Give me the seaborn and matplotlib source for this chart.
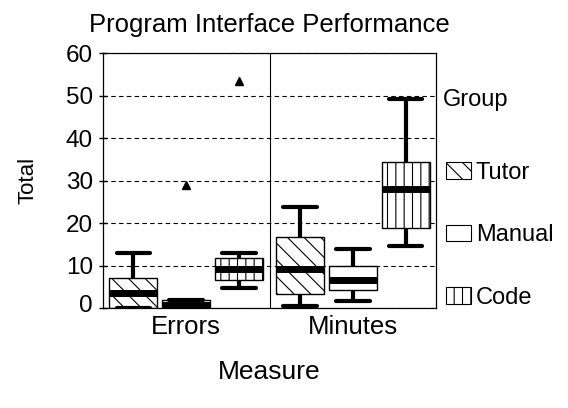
import pandas as pd
import seaborn as sns
import matplotlib.pyplot as plt
from matplotlib.patches import Patch
from matplotlib.transforms import ScaledTranslation

# Values read off the reference boxes (9 points per box, so the
# 25/50/75 percentiles land on the 3rd, 5th and 7th value)
measures = ['Errors', 'Minutes']
groups = ['Tutor', 'Manual', 'Code']
hatches = ['\\\\', '', '||']

tutor_errors = [0, 0, 0, 2, 3.6, 5, 7.1, 10, 13]
manual_errors = [0, 0, 0, 0.5, 0.7, 1, 1.8, 2, 29]
code_errors = [4.7, 5.5, 6.6, 8, 9.2, 10, 11.7, 13, 53.5]
tutor_minutes = [0.5, 2, 3.3, 6, 9.2, 12, 16.8, 20, 23.8]
manual_minutes = [1.7, 3, 4.2, 5.5, 6.6, 8, 9.9, 12, 13.8]
code_minutes = [14.7, 17, 18.9, 24, 28, 31, 34.4, 40, 49.1]

values = {
    ('Tutor', 'Errors'): tutor_errors,
    ('Manual', 'Errors'): manual_errors,
    ('Code', 'Errors'): code_errors,
    ('Tutor', 'Minutes'): tutor_minutes,
    ('Manual', 'Minutes'): manual_minutes,
    ('Code', 'Minutes'): code_minutes,
}

rows = []
for (grp, meas), vals in values.items():
    for v in vals:
        rows.append({'Group': grp, 'Measure': meas, 'Total': v})
df = pd.DataFrame(rows)

sns.set_style('white')
plt.rcParams['font.family'] = ['Liberation Sans', 'DejaVu Sans']
plt.rcParams['text.color'] = 'black'
plt.rcParams['axes.labelcolor'] = 'black'
plt.rcParams['xtick.color'] = 'black'
plt.rcParams['ytick.color'] = 'black'
plt.rcParams['hatch.linewidth'] = 0.8

fig = plt.figure(figsize=(5.68, 4.08), dpi=100)
ax = fig.add_axes([0.181, 0.245, 0.587, 0.625])

# one call per group so each set of boxes can get its own hatch
for grp, hatch in zip(groups, hatches):
    n_before = len(ax.patches)
    sns.boxplot(data=df[df['Group'] == grp], x='Measure', y='Total',
                hue='Group', hue_order=groups, order=measures,
                width=0.95, gap=0.09, dodge=True,
                color='white', linecolor='black', linewidth=1,
                whis=1.5, capwidths=0.2,
                medianprops=dict(linewidth=5, color='black'),
                whiskerprops=dict(linewidth=3, color='black'),
                capprops=dict(linewidth=3, color='black'),
                flierprops=dict(marker='^', markerfacecolor='black',
                                markeredgecolor='black', markersize=6),
                legend=False, ax=ax)
    for p in ax.patches[n_before:]:
        p.set_facecolor('white')
        p.set_edgecolor('black')
        p.set_hatch(hatch)

ax.set_ylim(0, 60)
ax.set_xlim(-0.5, 1.5)
ax.set_yticks(range(0, 70, 10))
ax.axvline(0.5, color='black', linewidth=0.8)
ax.yaxis.grid(True, linestyle=(0, (4, 3)), color='black', linewidth=0.8)
ax.set_axisbelow(True)
for s in ax.spines.values():
    s.set_color('black')
    s.set_linewidth(0.9)

ax.tick_params(axis='y', direction='inout', length=6, width=1,
               labelsize=17.5, pad=4, left=True)
ax.tick_params(axis='x', length=0, labelsize=18.5, pad=5)

# the zero label sits a little above its tick in the reference
zero_lab = ax.get_yticklabels()[0]
zero_lab.set_transform(zero_lab.get_transform() +
                       ScaledTranslation(0, 3 / 72, fig.dpi_scale_trans))

ax.set_xlabel('Measure', fontsize=19, labelpad=15)
ax.set_ylabel('Total', fontsize=16, labelpad=20)
ax.set_title('Program Interface Performance', fontsize=18.5, pad=15)

fig.text(0.780, 0.755, 'Group', fontsize=17, ha='left', va='center')
handles = [Patch(facecolor='white', edgecolor='black', hatch=h, linewidth=0.8)
           for h in hatches]
fig.legend(handles, groups, loc='upper left',
           bbox_to_anchor=(0.785, 0.604), frameon=False,
           fontsize=17, labelspacing=1.72, borderpad=0,
           handlelength=1.06, handleheight=0.7, handletextpad=0.2,
           borderaxespad=0)

fig.savefig('out.png', dpi=100)
